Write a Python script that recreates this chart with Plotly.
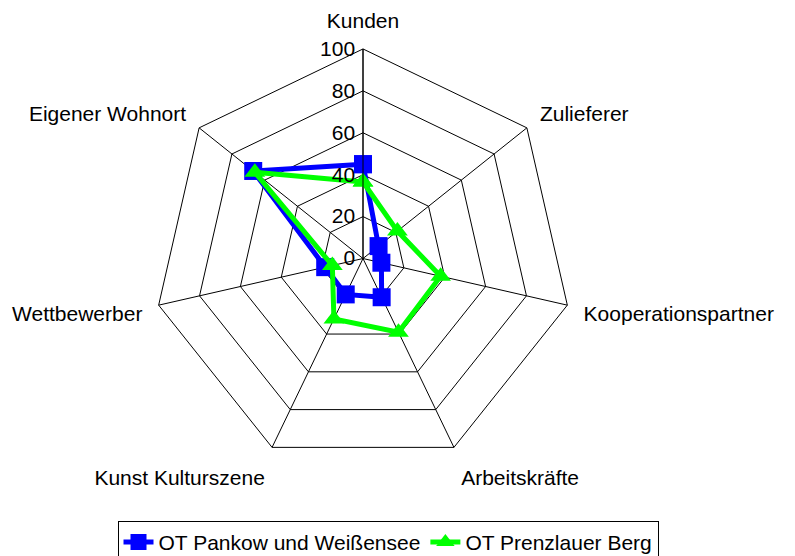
import plotly.graph_objects as go

categories = ["Kunden", "Zulieferer", "Kooperationspartner", "Arbeitskräfte",
              "Kunst Kulturszene", "Wettbewerber", "Eigener Wohnort"]
pankow = [45, 9.5, 9, 20.5, 19, 18.5, 67]
prenzlauer = [36.5, 21, 38, 39, 32, 15, 66]
radial_ticks = [0, 20, 40, 60, 80, 100]

FONT = "Liberation Sans, Arial, sans-serif"

fig = go.Figure()
fig.add_trace(go.Scatterpolar(
    r=pankow + pankow[:1], theta=categories + categories[:1],
    mode="lines+markers", name="OT Pankow und Weißensee",
    line=dict(color="#0000ff", width=5),
    marker=dict(symbol="square", size=18, color="#0000ff"),
))
fig.add_trace(go.Scatterpolar(
    r=prenzlauer + prenzlauer[:1], theta=categories + categories[:1],
    mode="lines+markers", name="OT Prenzlauer Berg",
    line=dict(color="#00ff00", width=5),
    marker=dict(symbol="triangle-up", size=18, color="#00ff00"),
))

W, H = 795, 556
dcx, dcy, S = 355, 257, 430
fig.update_layout(
    width=W, height=H, autosize=False,
    margin=dict(l=0, r=0, t=0, b=0),
    paper_bgcolor="white", plot_bgcolor="white",
    font=dict(family=FONT, size=21, color="black"),
    polar=dict(
        domain=dict(x=[(dcx - S / 2) / W, (dcx + S / 2) / W],
                    y=[1 - (dcy + S / 2) / H, 1 - (dcy - S / 2) / H]),
        bgcolor="white",
        gridshape="linear",
        radialaxis=dict(
            range=[0, 100], tickvals=radial_ticks, ticktext=[str(v) for v in radial_ticks],
            angle=90, tickangle=90, side="counterclockwise",
            showline=True, linecolor="black", linewidth=1,
            gridcolor="black", gridwidth=1, ticks="",
            tickfont=dict(family=FONT, size=21, color="black"),
        ),
        angularaxis=dict(
            rotation=90, direction="clockwise",
            showline=True, linecolor="black", linewidth=1,
            gridcolor="black", gridwidth=1,
            ticks="outside", ticklen=12, tickcolor="rgba(0,0,0,0)",
            tickfont=dict(family=FONT, size=21, color="black"),
        ),
    ),
    legend=dict(
        orientation="h", x=0.478, xanchor="center", y=1 - 526 / H, yanchor="top",
        bordercolor="black", borderwidth=1, bgcolor="white",
        font=dict(family=FONT, size=21, color="black"),
    ),
)

fig.write_html("out.html")
